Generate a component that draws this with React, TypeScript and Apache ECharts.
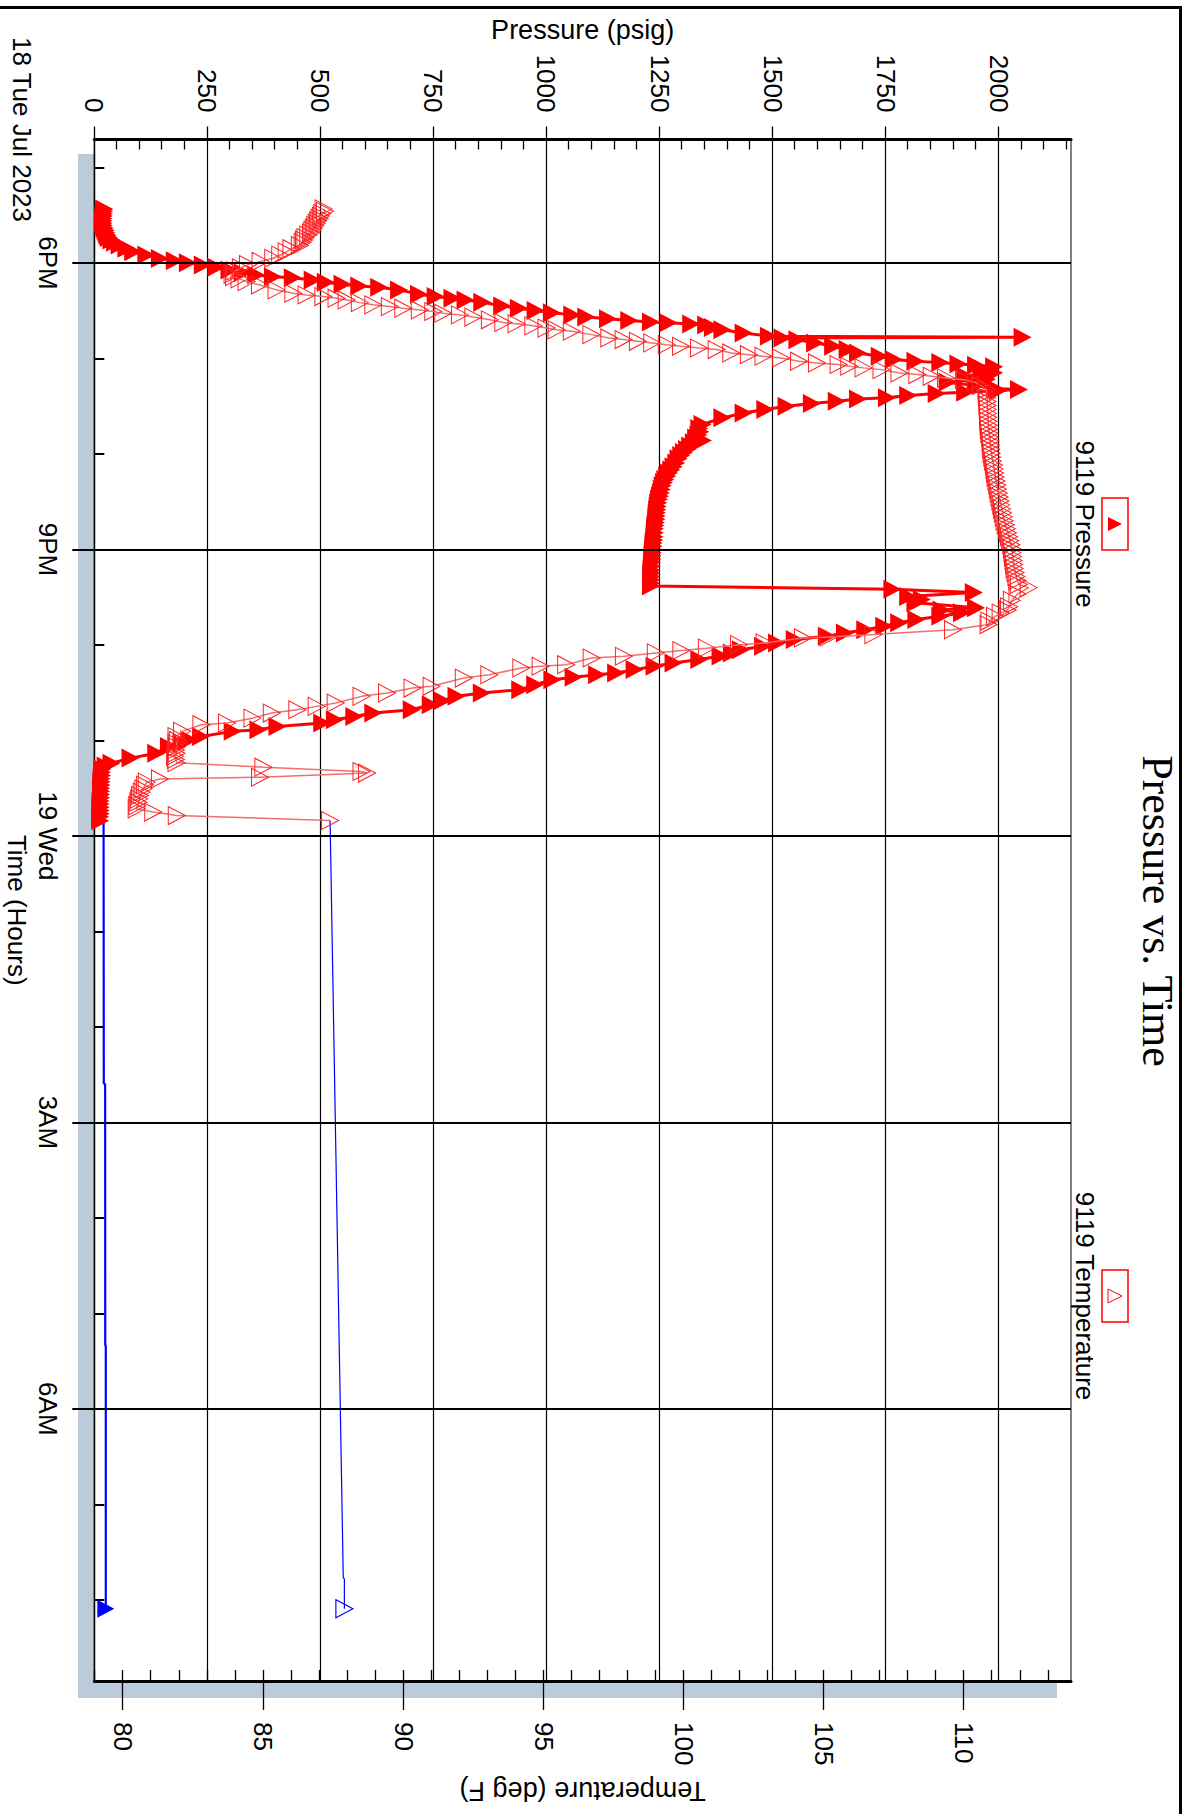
import React, { useEffect, useRef } from "react";
import * as echarts from "echarts";

// Chart is laid out unrotated (time along the width) and the whole div is turned 90deg clockwise.
const CHART_W = 1814;
const CHART_H = 1195;

// time = minutes after 00:00 on Tue 18 Jul 2023
const TIME_MIN = 1002.4;
const TIME_MAX = 1971;
const PRESSURE_MAX = 2160;
const TEMP_MIN = 78.969;
const TEMP_MAX = 113.81;

const timeMajorTicks = [1080, 1260, 1440, 1620, 1800];
const timeMajorLabels = ["6PM", "9PM", "19 Wed", "3AM", "6AM"];
const timeMinorTicks = [1020, 1140, 1200, 1320, 1380, 1500, 1560, 1680, 1740, 1860, 1920];
const pressureMajorTicks = [0, 250, 500, 750, 1000, 1250, 1500, 1750, 2000];
const pressureMinorTicks = [50, 100, 150, 200, 300, 350, 400, 450, 550, 600, 650, 700, 800, 850, 900, 950, 1050, 1100, 1150, 1200, 1300, 1350, 1400, 1450, 1550, 1600, 1650, 1700, 1800, 1850, 1900, 1950, 2050, 2100, 2150];
const tempMajorTicks = [80, 85, 90, 95, 100, 105, 110];
const tempInnerTicks = [79, 80, 81, 82, 83, 84, 85, 86, 87, 88, 89, 90, 91, 92, 93, 94, 95, 96, 97, 98, 99, 100, 101, 102, 103, 104, 105, 106, 107, 108, 109, 110, 111, 112, 113];

// 9119 Pressure (psig), red part
const pressureRed = [
  [1046, 22], [1047.5, 22], [1049, 21], [1050.5, 21], [1052, 20], [1053.5, 20], [1055, 20], [1056.5, 21], [1058, 23], [1059.5, 25], [1061, 27], [1062.5, 29], [1064, 32], [1065.5, 38], [1067, 46],
  [1068.7, 56], [1070.8, 71], [1072.9, 86], [1075, 115], [1077.1, 145], [1078.6, 178], [1079.8, 207], [1081.3, 240], [1082.7, 270], [1084.4, 299], [1086.1, 328], [1087.5, 358], [1088.6, 395], [1089.2, 439], [1090.7, 483], [1092.1, 512], [1093.4, 549], [1094.4, 586], [1095.2, 630], [1096.9, 674], [1099.6, 718], [1101.1, 755], [1102.1, 792], [1103.2, 821], [1104.6, 858], [1107, 902], [1108.4, 939], [1109.9, 976], [1111.2, 1012],
  [1112.6, 1057], [1113.9, 1088], [1115, 1136], [1116.2, 1183], [1117, 1231], [1117.6, 1270], [1118.3, 1320], [1119, 1353], [1120.5, 1368], [1122, 1389], [1124, 1436], [1126, 1492], [1126.6, 2053], [1127.2, 1522], [1128.3, 1555], [1130.2, 1594], [1132.3, 1634], [1134.4, 1666], [1136.5, 1689], [1138.6, 1737], [1140.7, 1768], [1141.7, 1816], [1142.6, 1871], [1143.4, 1911], [1144.2, 1950], [1145.2, 1990], [1147, 1962], [1149, 1990], [1151, 1926], [1153, 1974], [1155, 1887], [1157, 1950], [1158.8, 1992], [1159.5, 2045], [1160.3, 1998], [1161.2, 1926], [1162, 1863], [1163.3, 1800], [1164.6, 1753], [1165.5, 1689], [1166.9, 1642], [1168.3, 1587], [1170, 1531], [1172, 1484], [1174.2, 1436], [1177.3, 1389], [1181.5, 1345], [1184, 1338],
  [1186, 1340], [1188, 1336], [1190, 1331], [1191.5, 1346], [1193, 1326], [1195, 1318], [1197.2, 1311], [1199, 1304], [1201, 1298], [1203, 1292], [1205.6, 1287], [1208, 1281], [1210, 1276], [1212, 1271], [1214, 1267], [1216, 1263], [1218, 1260], [1220, 1257], [1222.3, 1255], [1224.5, 1253], [1226.5, 1251], [1228.5, 1249], [1230.7, 1247], [1233, 1246], [1235, 1245], [1237, 1244], [1239, 1243.5], [1241, 1243], [1243, 1242], [1245, 1241], [1247, 1240], [1249.5, 1239.5], [1252, 1239], [1254, 1238], [1256, 1237], [1258, 1236.5], [1260, 1235.6], [1262, 1235], [1264, 1234.5], [1266, 1234], [1268, 1233.5], [1270.5, 1233], [1273, 1232.5], [1275, 1232], [1277, 1232], [1279, 1231.6], [1281, 1231.6], [1283, 1231],
  [1285, 1765], [1287, 1945], [1289.5, 1800], [1291.5, 1830], [1293.5, 1816], [1296.6, 1950], [1298, 1874], [1299.8, 1919], [1301.9, 1871], [1304, 1818], [1306, 1780],
  [1308.3, 1747], [1310.4, 1705], [1312.5, 1660], [1314.5, 1620], [1316.6, 1549], [1318.7, 1510], [1320.8, 1479], [1323, 1430], [1325, 1410], [1327, 1385], [1329.2, 1338], [1331.3, 1281], [1333.4, 1239], [1335.5, 1195], [1337.6, 1154], [1338.7, 1112], [1340.3, 1060], [1341.8, 1013], [1345, 975], [1348.1, 942], [1350.2, 857], [1352.3, 801], [1355, 770], [1357.6, 744], [1360.7, 702], [1362.8, 617], [1365, 575], [1367, 532], [1369.1, 504], [1371.2, 405], [1373.3, 363], [1374.3, 306], [1377.5, 236], [1379.5, 210], [1381.7, 193], [1383.8, 165], [1388, 137], [1391.1, 80], [1394.3, 38], [1396, 25],
  [1398, 18], [1400, 17], [1402, 17], [1404, 16], [1406, 16], [1408, 16], [1410, 15], [1412, 15], [1414, 15], [1416, 15], [1418, 14], [1420, 14], [1422, 14], [1424, 14], [1426, 14], [1428, 13], [1430.5, 13],
];

// 9119 Temperature (deg F), red part
const temperatureRed = [
  [1046, 87.15], [1047.5, 87.2], [1049, 87.1], [1050.5, 87.05], [1052, 87.0], [1053.5, 86.95], [1055, 86.9], [1056.5, 86.85], [1058, 86.8], [1059.5, 86.75], [1061, 86.7], [1062.5, 86.6], [1064, 86.5], [1065.5, 86.45], [1067, 86.4], [1069, 86.3], [1071, 86.0], [1073, 85.83], [1075, 85.6], [1077, 85.35], [1079, 84.9], [1081, 84.45], [1083, 84.2], [1085, 84.0], [1087, 83.9], [1088.6, 83.95], [1090, 84.15], [1091.7, 84.4], [1093.8, 84.88], [1096.9, 85.47], [1099, 86.07], [1100.1, 86.54], [1101.1, 87.14], [1102.1, 87.61], [1103.2, 87.97], [1104.9, 88.44], [1106.3, 88.92], [1107.4, 89.51], [1108.4, 89.99], [1109.5, 90.58], [1110.5, 91.06], [1111.6, 91.42], [1112.6, 92.01], [1114, 92.49], [1115.7, 93.08], [1117.4, 93.56], [1118.2, 94.03], [1119.5, 94.63], [1120.9, 95.1], [1122, 95.46],
  [1122.9, 96.0], [1125, 96.7], [1127.1, 97.34], [1128.1, 97.85], [1129.2, 98.36], [1130.2, 98.87], [1131.3, 99.39], [1132.3, 99.9], [1133.4, 100.54], [1134.4, 101.17], [1136.5, 101.69], [1137.6, 102.32], [1138.6, 102.84], [1139.7, 103.47], [1141.7, 104.11], [1142.8, 104.75], [1143.8, 105.52], [1144.9, 105.9], [1145.9, 106.41], [1147, 107.05], [1149.1, 107.69], [1150.1, 108.33], [1151.2, 108.84], [1152.2, 109.35], [1153.3, 109.99], [1155, 110.4], [1157, 110.6], [1159.5, 110.8],
  [1162, 110.8], [1164.5, 110.82], [1167, 110.83], [1169.5, 110.83], [1172, 110.84], [1174.5, 110.85], [1177, 110.85], [1179.5, 110.86], [1182, 110.87], [1184.5, 110.88], [1187, 110.9], [1189.5, 110.92], [1192, 110.94], [1194.5, 110.95], [1197, 110.96], [1199.5, 110.98], [1202, 111.0], [1204.5, 111.03], [1207, 111.06], [1209.5, 111.08], [1212, 111.1], [1214.5, 111.12], [1217, 111.15], [1219.5, 111.18], [1222, 111.2], [1224.5, 111.23], [1227, 111.26], [1229.5, 111.29], [1232, 111.32], [1234.5, 111.35], [1237, 111.38], [1239.5, 111.41], [1242, 111.44], [1244.5, 111.48], [1247, 111.52], [1249.5, 111.56], [1252, 111.6], [1254.5, 111.64], [1257, 111.68], [1259.5, 111.7], [1262, 111.72], [1264.5, 111.74], [1267, 111.76], [1269.5, 111.78], [1272, 111.8], [1274.5, 111.83], [1277, 111.86], [1279.5, 111.9], [1282, 111.95], [1284, 112.3],
  [1288, 111.9], [1292, 111.7], [1296, 111.6], [1298, 111.55], [1300, 111.3], [1302, 111.1], [1305, 110.9], [1307.2, 110.87], [1310.4, 109.6], [1313.5, 106.76], [1315, 105.16], [1315.6, 104.25], [1318.7, 102.88], [1319.8, 101.97], [1322, 100.82], [1323.5, 99.91], [1325, 99.0], [1327.1, 97.86], [1328.2, 96.71], [1332.4, 95.8], [1333.4, 94.89], [1334.5, 94.2], [1338.7, 93.06], [1340.8, 92.15], [1346, 91.0], [1347.1, 90.32], [1350.2, 89.41], [1352.3, 88.5], [1356.5, 87.58], [1358.6, 86.9], [1360.7, 86.21], [1362.8, 85.3], [1366, 84.61], [1369.1, 83.7], [1370.1, 82.79], [1374.3, 82.1], [1377.5, 81.9],
  [1380, 81.95], [1382, 81.9], [1384, 81.92], [1386, 81.88], [1388, 81.9], [1390, 81.85], [1392, 81.88], [1394, 81.9],
  [1396.8, 85.0], [1399.5, 88.5], [1400.5, 88.7], [1403.1, 84.88], [1404.2, 81.31],
  [1406.2, 80.84], [1408, 80.78], [1410.4, 80.72], [1412.5, 80.66], [1414.6, 80.6], [1416.7, 80.57], [1418.8, 80.54], [1421, 80.5], [1423, 80.48], [1425, 81.07], [1427.2, 81.91], [1430.3, 87.38],
];

// blue continuation (overnight)
const pressureBlue = [[1431, 20.5], [1595.5, 21], [1596, 24], [1760, 24.2], [1760.5, 25.4], [1925.6, 25.4]];
const temperatureBlue = [[1430.3, 87.38], [1906, 87.85], [1907, 87.89], [1925.6, 87.89]];

const SANS = '"Liberation Sans", Arial, sans-serif';
const SERIF = '"Liberation Serif", "Times New Roman", serif';

function lastOnly(points: number[][]) {
  return points.map((p, i) => (i === points.length - 1 ? { value: p } : { value: p, symbol: "none" }));
}

function buildOption() {
  const hiddenAxisBase = {
    axisLine: { show: false },
    axisLabel: { show: false },
    splitLine: { show: false },
  };
  return {
    animation: false,
    backgroundColor: "#ffffff",
    grid: {
      left: 139.5,
      right: CHART_W - 1681,
      top: 124,
      bottom: 94.3,
      show: true,
      backgroundColor: "#ffffff",
      borderColor: "#000000",
      borderWidth: 1,
      containLabel: false,
      outerBoundsMode: "none",
    },
    xAxis: [
      {
        type: "value",
        min: TIME_MIN,
        max: TIME_MAX,
        position: "bottom",
        axisLine: { show: true, onZero: false, lineStyle: { color: "#000", width: 1.3 } },
        axisTick: { show: true, customValues: timeMajorTicks, inside: false, length: 22, lineStyle: { color: "#000", width: 2 } },
        axisLabel: {
          show: true,
          customValues: timeMajorTicks,
          formatter: (v: number) => {
            const i = timeMajorTicks.indexOf(Math.round(v));
            return i >= 0 ? timeMajorLabels[i] : "";
          },
          margin: 33,
          fontSize: 26,
          fontFamily: SANS,
          color: "#000",
        },
        splitLine: { show: false },
        name: "Time (Hours)",
        nameLocation: "middle",
        nameGap: 59,
        nameTextStyle: { fontSize: 26, fontFamily: SANS, color: "#000" },
      },
      {
        type: "value",
        min: TIME_MIN,
        max: TIME_MAX,
        position: "bottom",
        ...hiddenAxisBase,
        axisTick: { show: true, customValues: timeMinorTicks, inside: true, length: 10, lineStyle: { color: "#000", width: 2 } },
      },
    ],
    yAxis: [
      {
        type: "value",
        min: 0,
        max: PRESSURE_MAX,
        interval: 250,
        position: "left",
        axisLine: { show: true, onZero: false, lineStyle: { color: "#000", width: 3 } },
        axisTick: { show: true, customValues: pressureMajorTicks, inside: false, length: 13, lineStyle: { color: "#000", width: 1.3 } },
        axisLabel: {
          show: true,
          customValues: pressureMajorTicks,
          formatter: (v: number) => String(Math.round(v)),
          margin: 27,
          fontSize: 26,
          fontFamily: SANS,
          color: "#000",
        },
        splitLine: { show: true, lineStyle: { color: "#000", width: 1.2 } },
        name: "Pressure (psig)",
        nameLocation: "middle",
        nameRotate: 90,
        nameGap: 87,
        nameTextStyle: { fontSize: 27, fontFamily: SANS, color: "#000" },
      },
      {
        type: "value",
        min: TEMP_MIN,
        max: TEMP_MAX,
        position: "right",
        axisLine: { show: true, onZero: false, lineStyle: { color: "#000", width: 3 } },
        axisTick: { show: true, customValues: tempInnerTicks, inside: true, length: 11, lineStyle: { color: "#000", width: 1.3 } },
        axisLabel: {
          show: true,
          customValues: tempMajorTicks,
          formatter: (v: number) => String(Math.round(v)),
          margin: 41,
          fontSize: 26,
          fontFamily: SANS,
          color: "#000",
        },
        splitLine: { show: false },
        name: "Temperature (deg F)",
        nameLocation: "middle",
        nameRotate: -90,
        nameGap: 96,
        nameTextStyle: { fontSize: 27, fontFamily: SANS, color: "#000" },
      },
      {
        type: "value",
        min: 0,
        max: PRESSURE_MAX,
        position: "left",
        ...hiddenAxisBase,
        axisTick: { show: true, customValues: pressureMinorTicks, inside: true, length: 10, lineStyle: { color: "#000", width: 1.3 } },
      },
      {
        type: "value",
        min: TEMP_MIN,
        max: TEMP_MAX,
        position: "right",
        ...hiddenAxisBase,
        axisTick: { show: true, customValues: tempMajorTicks, inside: false, length: 29, lineStyle: { color: "#000", width: 1.3 } },
      },
    ],
    graphic: [
      { type: "rect", silent: true, z: -5, shape: { x: 154, y: 138, width: 1544, height: 979 }, style: { fill: "#bccbd9" } },
      { type: "line", silent: true, z: 20, shape: { x1: 7.5, y1: 14, x2: 7.5, y2: CHART_H }, style: { stroke: "#000", lineWidth: 3 } },
      { type: "line", silent: true, z: 20, shape: { x1: 6, y1: 14.5, x2: CHART_W, y2: 14.5 }, style: { stroke: "#000", lineWidth: 3 } },
      {
        type: "text", silent: true, z: 20, x: 911, y: 38,
        style: { text: "Pressure vs. Time", font: `44px ${SERIF}`, fill: "#000", align: "center", verticalAlign: "middle", textAlign: "center", textVerticalAlign: "middle" },
      },
      { type: "rect", silent: true, z: 20, shape: { x: 498, y: 67, width: 52, height: 26 }, style: { fill: "#fff", stroke: "#ff0000", lineWidth: 1.5 } },
      { type: "polygon", silent: true, z: 21, shape: { points: [[524, 73], [531, 87], [517, 87]] }, style: { fill: "#ff0000" } },
      {
        type: "text", silent: true, z: 20, x: 524, y: 110,
        style: { text: "9119 Pressure", font: `26px ${SANS}`, fill: "#000", align: "center", verticalAlign: "middle", textAlign: "center", textVerticalAlign: "middle" },
      },
      { type: "rect", silent: true, z: 20, shape: { x: 1270, y: 67, width: 52, height: 26 }, style: { fill: "#fff", stroke: "#ff0000", lineWidth: 1.5 } },
      { type: "polygon", silent: true, z: 21, shape: { points: [[1296, 73], [1303, 87], [1289, 87]] }, style: { fill: "none", stroke: "#ff0000", lineWidth: 1 } },
      {
        type: "text", silent: true, z: 20, x: 1296, y: 110,
        style: { text: "9119 Temperature", font: `26px ${SANS}`, fill: "#000", align: "center", verticalAlign: "middle", textAlign: "center", textVerticalAlign: "middle" },
      },
      {
        type: "text", silent: true, z: 20, x: 37, y: 1173,
        style: { text: "18 Tue Jul 2023", font: `26px ${SANS}`, fill: "#000", align: "left", verticalAlign: "middle", textAlign: "left", textVerticalAlign: "middle" },
      },
    ],
    series: [
      {
        type: "line",
        name: "time grid",
        xAxisIndex: 0,
        yAxisIndex: 0,
        data: [],
        z: 1,
        silent: true,
        markLine: {
          silent: true,
          animation: false,
          symbol: ["none", "none"],
          label: { show: false },
          lineStyle: { color: "#000", width: 2, type: "solid" },
          data: timeMajorTicks.map((v) => ({ xAxis: v })),
        },
      },
      {
        type: "line",
        name: "9119 Pressure",
        xAxisIndex: 0,
        yAxisIndex: 0,
        data: pressureRed,
        z: 3,
        silent: true,
        symbol: "triangle",
        symbolSize: [19, 18],
        lineStyle: { color: "#ff0000", width: 3 },
        itemStyle: { color: "#ff0000" },
      },
      {
        type: "line",
        name: "9119 Temperature",
        xAxisIndex: 0,
        yAxisIndex: 1,
        data: temperatureRed,
        z: 4,
        silent: true,
        symbol: "triangle",
        symbolSize: [18, 17],
        lineStyle: { color: "#f07070", width: 1.5 },
        itemStyle: { color: "rgba(0,0,0,0)", borderColor: "#ff2020", borderWidth: 1 },
      },
      {
        type: "line",
        name: "9119 Pressure (overnight)",
        xAxisIndex: 0,
        yAxisIndex: 0,
        data: lastOnly(pressureBlue),
        z: 3,
        silent: true,
        symbol: "triangle",
        symbolSize: [18, 17],
        lineStyle: { color: "#0000ff", width: 2.2 },
        itemStyle: { color: "#0000ff" },
      },
      {
        type: "line",
        name: "9119 Temperature (overnight)",
        xAxisIndex: 0,
        yAxisIndex: 1,
        data: lastOnly(temperatureBlue),
        z: 4,
        silent: true,
        symbol: "triangle",
        symbolSize: [18, 17],
        lineStyle: { color: "#0000ff", width: 1.2 },
        itemStyle: { color: "rgba(0,0,0,0)", borderColor: "#0000ff", borderWidth: 1.2 },
      },
    ],
  };
}

export default function App() {
  const ref = useRef<HTMLDivElement>(null);
  useEffect(() => {
    const el = ref.current;
    if (!el) return;
    const chart = echarts.init(el, undefined, { renderer: "svg", width: CHART_W, height: CHART_H });
    chart.setOption(buildOption() as any);
    return () => chart.dispose();
  }, []);
  return (
    <div style={{ position: "absolute", left: 0, top: 0, width: 1195, height: 1814, overflow: "hidden", background: "#fff" }}>
      <div
        ref={ref}
        style={{
          position: "absolute",
          left: 0,
          top: 0,
          width: CHART_W,
          height: CHART_H,
          transformOrigin: "0 0",
          transform: "rotate(90deg) translateY(-100%)",
        }}
      />
    </div>
  );
}
